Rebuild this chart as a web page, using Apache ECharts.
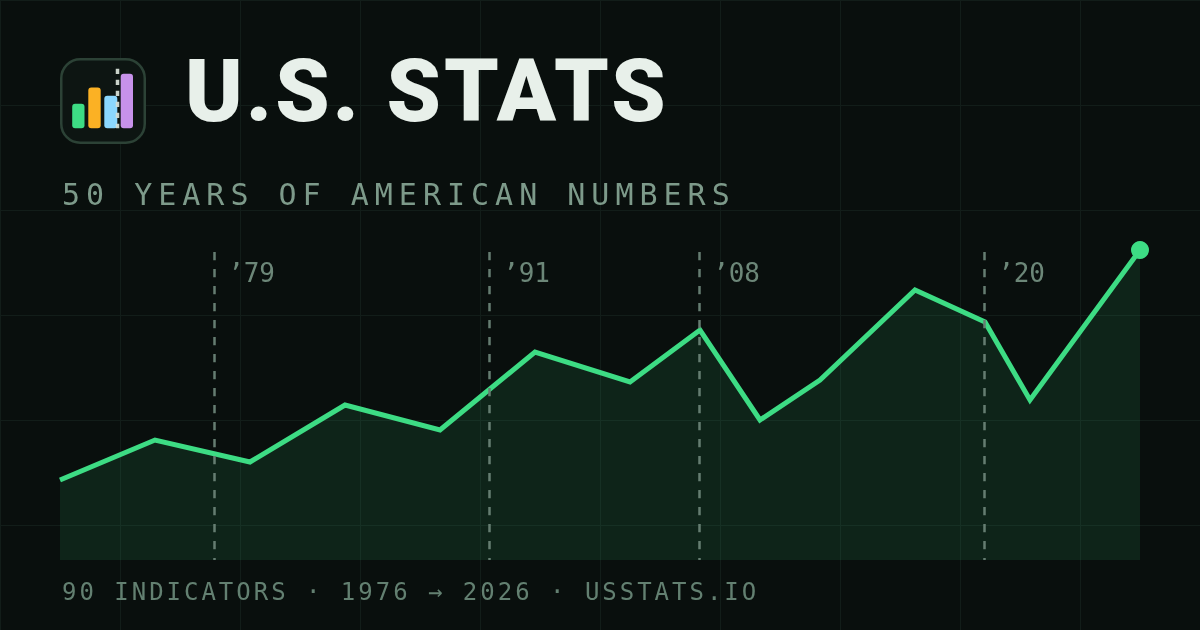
<!DOCTYPE html>
<html><head><meta charset="utf-8">
<style>
html,body{margin:0;padding:0;background:#090f0d}
#c{width:1200px;height:630px;will-change:transform}
svg text[style*="30px"]{letter-spacing:6px}
svg text[style*="24.01px"]{letter-spacing:2.98px}
</style>
<script src="https://cdn.jsdelivr.net/npm/echarts@6/dist/echarts.min.js"></script>
</head><body><div id="c"></div>
<script>
const timeline = [0,95,190,285,380,475,570,640,700,760,855,925,970,1080];
const values = [80,120,98,155,130,208,178,230,140,180,270,238,160,310];
const eventPositions = [154.5,429.5,639.5,924.5];
const eventLabels = ['’79','’91','’08','’20'];
const titleText = 'U.S. STATS';
const subtitleText = '50 YEARS OF AMERICAN NUMBERS';
const footerText = '90 INDICATORS · 1976 → 2026 · USSTATS.IO';
const GREEN = '#3ddc84';
const MONO = '"DejaVu Sans Mono"';
const eventTop = 308, labelLevel = 287;

// Fit the title's letter spacing to the width it occupies in the reference.
const measure = document.createElement('canvas').getContext('2d');
measure.font = '900 87px Roboto';
const titleSpacing = Math.max(-3, Math.min(3, (487 - measure.measureText(titleText).width) / 9));
const titleStyle = document.createElement('style');
titleStyle.textContent = 'svg text[style*="87px"]{letter-spacing:' + titleSpacing + 'px}';
document.head.appendChild(titleStyle);

const chart = echarts.init(document.getElementById('c'), null, {renderer:'svg', width:1200, height:630});
function label(x,y,text,family,size,fill,weight){
  return {type:'text',x,y,silent:true,z:10,style:{text,fontFamily:family,fontSize:size,fontWeight:weight||'normal',fill,textVerticalAlign:'middle',textAlign:'left'}};
}
function bar(x,y,w,h,fill){
  return {type:'rect',silent:true,z:10,shape:{x,y,width:w,height:h,r:3},style:{fill}};
}
chart.setOption({
  animation:false,
  backgroundColor:'#090f0d',
  grid:[
    {left:0,right:0,top:0,bottom:0},
    {left:60,right:60,top:250,bottom:70}
  ],
  xAxis:[
    {gridIndex:0,type:'value',min:0,max:1200,interval:120,axisLine:{show:false},axisTick:{show:false},axisLabel:{show:false},
     splitLine:{show:true,lineStyle:{color:'#121d19',width:1}}},
    {gridIndex:1,type:'value',min:0,max:1080,axisLine:{show:false},axisTick:{show:false},axisLabel:{show:false},splitLine:{show:false}}
  ],
  yAxis:[
    {gridIndex:0,type:'value',min:0,max:630,interval:105,axisLine:{show:false},axisTick:{show:false},axisLabel:{show:false},
     splitLine:{show:true,lineStyle:{color:'#121d19',width:1}}},
    {gridIndex:1,type:'value',min:0,max:310,axisLine:{show:false},axisTick:{show:false},axisLabel:{show:false},splitLine:{show:false}}
  ],
  series:[
    {
      type:'line',xAxisIndex:1,yAxisIndex:1,
      data:timeline.map((t,i)=>[t,values[i]]),
      clip:false,
      showSymbol:true,showAllSymbol:true,symbol:'circle',
      symbolSize:(v,p)=>p.dataIndex===values.length-1?18:0,
      itemStyle:{color:GREEN},
      lineStyle:{color:GREEN,width:5,join:'miter',cap:'butt'},
      areaStyle:{color:GREEN,opacity:0.105},
      markLine:{
        silent:true,symbol:'none',animation:false,
        label:{show:false},
        lineStyle:{color:'#657d71',width:2.5,type:[8.2,8.8]},
        data:eventPositions.map(p=>[{coord:[p,eventTop]},{coord:[p,0]}])
      }
    },
    {
      type:'scatter',xAxisIndex:1,yAxisIndex:1,symbolSize:1,itemStyle:{color:'transparent'},silent:true,
      data:eventPositions.map((p,i)=>({value:[p,labelLevel],label:{formatter:eventLabels[i]}})),
      label:{show:true,position:'right',distance:13,color:'#86a594',fontFamily:MONO,fontSize:26}
    }
  ],
  graphic:[
    {type:'rect',silent:true,z:9,shape:{x:61.25,y:59.25,width:83.5,height:83.5,r:19},style:{fill:'#0d1512',stroke:'#2c4236',lineWidth:2.5}},
    bar(72.2,103.8,12.3,24.4,'#3ddc84'),
    bar(88.3,87.5,12.4,40.7,'#fbb124'),
    bar(104.3,95.8,13,32.4,'#8bd8ff'),
    bar(120.7,73.8,12.3,54.4,'#c792ea'),
    {type:'line',silent:true,z:11,shape:{x1:117.5,y1:68.7,x2:117.5,y2:128.3},style:{stroke:'#d5ddd5',lineWidth:3.5,lineDash:[5.3,5.7],opacity:0.95}},
    label(185,91,titleText,'Roboto',87,'#e8f0ea',900),
    label(62,194,subtitleText,MONO,30,'#7d9a8a'),
    label(62,592,footerText,MONO,24.01,'#638071')
  ]
});
</script></body></html>
